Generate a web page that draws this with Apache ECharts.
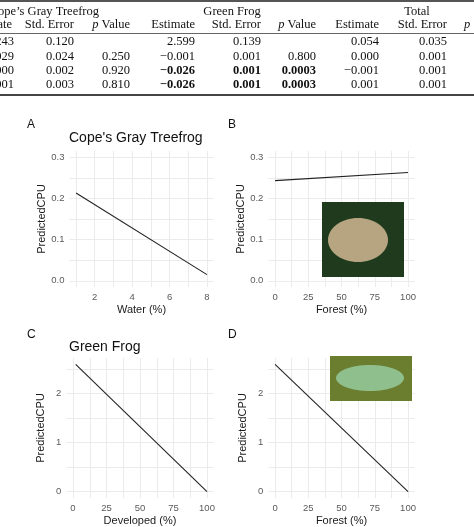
<!DOCTYPE html>
<html><head><meta charset="utf-8">
<script src="https://cdn.jsdelivr.net/npm/echarts@6/dist/echarts.min.js"></script>
<style>html,body{margin:0;padding:0;background:#fff}#c{width:474px;height:527px}</style>
</head><body><div id="c"></div>
<script>
// ---- data ----
const waterX = [1, 8];
const waterCPU = [0.213, 0.015];
const forestXB = [0, 100];
const forestCPUB = [0.243, 0.263];
const developedX = [2, 100];
const developedCPU = [2.60, 0.0];
const forestXD = [0, 100];
const forestCPUD = [2.60, 0.0];
const waterTicks = [2, 4, 6, 8];
const waterGrid = [1, 2, 3, 4, 5, 6, 7, 8];
const pctTicks = [0, 25, 50, 75, 100];
const pctGrid = [0, 12.5, 25, 37.5, 50, 62.5, 75, 87.5, 100];
const cpuSmallTicks = [0, 0.1, 0.2, 0.3];
const cpuSmallGrid = [0, 0.05, 0.1, 0.15, 0.2, 0.25, 0.3];
const cpuLargeTicks = [0, 1, 2];
const cpuLargeGrid = [0, 0.5, 1, 1.5, 2, 2.5];
const groupHeaders = ["Cope\u2019s Gray Treefrog", "Green Frog", "Total"];
const colHeaders = ["Estimate", "Std. Error", "{i|p} Value", "Estimate", "Std. Error", "{i|p} Value", "Estimate", "Std. Error"];
const tableRows = [
  ["0.243", "0.120", "", "2.599", "0.139", "", "0.054", "0.035"],
  ["0.029", "0.024", "0.250", "\u22120.001", "0.001", "0.800", "0.000", "0.001"],
  ["0.000", "0.002", "0.920", "\u22120.026", "0.001", "0.0003", "\u22120.001", "0.001"],
  ["0.001", "0.003", "0.810", "\u22120.026", "0.001", "0.0003", "0.001", "0.001"]
];
const boldCells = [[2,3],[2,4],[2,5],[3,3],[3,4],[3,5]];

const chart = echarts.init(document.getElementById('c'));
const FONT = '"Liberation Sans", Arial, sans-serif';
const SERIF = '"Liberation Serif", "DejaVu Serif", serif';
const GRIDC = '#ebebeb';
const TS = 12.5;

function axisBase(i, min, max, ticks, grid, fmt, name, gap) {
  return { gridIndex: i, type: 'value', min, max, name, nameLocation: 'middle', nameGap: gap,
    nameTextStyle: { fontFamily: FONT, fontSize: 11, color: '#1a1a1a' },
    axisLine: { show: false },
    axisTick: { show: false, customValues: grid },
    axisLabel: { customValues: ticks, formatter: fmt, fontFamily: FONT, fontSize: 9.5, color: '#5a5a5a', margin: 5 },
    splitLine: { show: true, lineStyle: { color: GRIDC, width: 1 } } };
}
const fInt = v => String(Math.round(v));
const f1 = v => Number(v).toFixed(1);
function pair(xs, ys) { return xs.map((x, i) => [x, ys[i]]); }
function line(i, data) {
  return { type: 'line', xAxisIndex: i, yAxisIndex: i, data, showSymbol: false, symbol: 'none', silent: true,
    lineStyle: { color: '#222', width: 1.1 } };
}

// table graphics
const colRight = [14, 74, 130, 195, 261, 316, 379, 447];
const rowY = [42, 57, 71, 85];
const g = [];
g.push({ type: 'rect', shape: { x: 0, y: 0, width: 474, height: 2 }, style: { fill: '#555' } });
g.push({ type: 'rect', shape: { x: 0, y: 33, width: 474, height: 0.8 }, style: { fill: '#333' } });
g.push({ type: 'rect', shape: { x: 0, y: 94, width: 474, height: 2 }, style: { fill: '#444' } });
const groupRight = [[99, 'right'], [232, 'center'], [417, 'center']];
groupHeaders.forEach((t, i) => g.push({ type: 'text', x: groupRight[i][0], y: 12,
  style: { text: t, fontFamily: SERIF, fontSize: TS, fill: '#111', align: groupRight[i][1], verticalAlign: 'middle' } }));
colHeaders.forEach((t, i) => g.push({ type: 'text', x: colRight[i] - (i === 0 ? 2 : 0), y: 25,
  style: { text: t, fontFamily: SERIF, fontSize: TS, fill: '#111', align: 'right', verticalAlign: 'middle',
    rich: { i: { fontFamily: SERIF, fontSize: TS, fontStyle: 'italic', fill: '#111' } } } }));
g.push({ type: 'text', x: 464, y: 25, style: { text: 'p', fontFamily: SERIF, fontSize: TS, fontStyle: 'italic', fill: '#111', verticalAlign: 'middle' } });
tableRows.forEach((row, r) => row.forEach((t, c) => {
  const bold = boldCells.some(b => b[0] === r && b[1] === c);
  g.push({ type: 'text', x: colRight[c], y: rowY[r], style: { text: t, fontFamily: SERIF, fontSize: TS,
    fontWeight: bold ? 'bold' : 'normal', fill: '#111', align: 'right', verticalAlign: 'middle' } });
}));
// panel labels and titles
[['A', 27, 125], ['B', 228, 125], ['C', 27, 335], ['D', 228, 335]].forEach(p => g.push({ type: 'text', x: p[1], y: p[2],
  style: { text: p[0], fontFamily: FONT, fontSize: 12, fill: '#111', verticalAlign: 'middle' } }));
g.push({ type: 'text', x: 69, y: 138, style: { text: "Cope's Gray Treefrog", fontFamily: FONT, fontSize: 14, fill: '#111', verticalAlign: 'middle' } });
g.push({ type: 'text', x: 69, y: 347, style: { text: 'Green Frog', fontFamily: FONT, fontSize: 14, fill: '#111', verticalAlign: 'middle' } });
// photo placeholders
g.push({ type: 'rect', shape: { x: 322, y: 202, width: 82, height: 75 }, style: { fill: '#1f3a1c' }, z: 50 });
g.push({ type: 'ellipse', shape: { cx: 358, cy: 240, rx: 30, ry: 22 }, style: { fill: '#b7a582' }, z: 51 });
g.push({ type: 'rect', shape: { x: 330, y: 356, width: 82, height: 45 }, style: { fill: '#6b7d2e' }, z: 50 });
g.push({ type: 'ellipse', shape: { cx: 370, cy: 378, rx: 34, ry: 13 }, style: { fill: '#8fbf8c' }, z: 51 });

chart.setOption({
  animation: false,
  graphic: g,
  grid: [
    { left: 69.5, top: 151, width: 144, height: 136 },
    { left: 268.4, top: 151, width: 146.3, height: 136 },
    { left: 66.3, top: 358, width: 147.4, height: 140 },
    { left: 268.4, top: 358, width: 146.3, height: 140 }
  ],
  xAxis: [
    axisBase(0, 0.65, 8.35, waterTicks, waterGrid, fInt, 'Water (%)', 17),
    axisBase(1, -5, 105, pctTicks, pctGrid, fInt, 'Forest (%)', 17),
    axisBase(2, -5, 105, pctTicks, pctGrid, fInt, 'Developed (%)', 17),
    axisBase(3, -5, 105, pctTicks, pctGrid, fInt, 'Forest (%)', 17)
  ],
  yAxis: [
    axisBase(0, -0.015, 0.315, cpuSmallTicks, cpuSmallGrid, f1, 'PredictedCPU', 20),
    axisBase(1, -0.015, 0.315, cpuSmallTicks, cpuSmallGrid, f1, 'PredictedCPU', 20),
    axisBase(2, -0.13, 2.73, cpuLargeTicks, cpuLargeGrid, fInt, 'PredictedCPU', 20),
    axisBase(3, -0.13, 2.73, cpuLargeTicks, cpuLargeGrid, fInt, 'PredictedCPU', 20)
  ],
  series: [
    line(0, pair(waterX, waterCPU)),
    line(1, pair(forestXB, forestCPUB)),
    line(2, pair(developedX, developedCPU)),
    line(3, pair(forestXD, forestCPUD))
  ]
});
</script></body></html>
